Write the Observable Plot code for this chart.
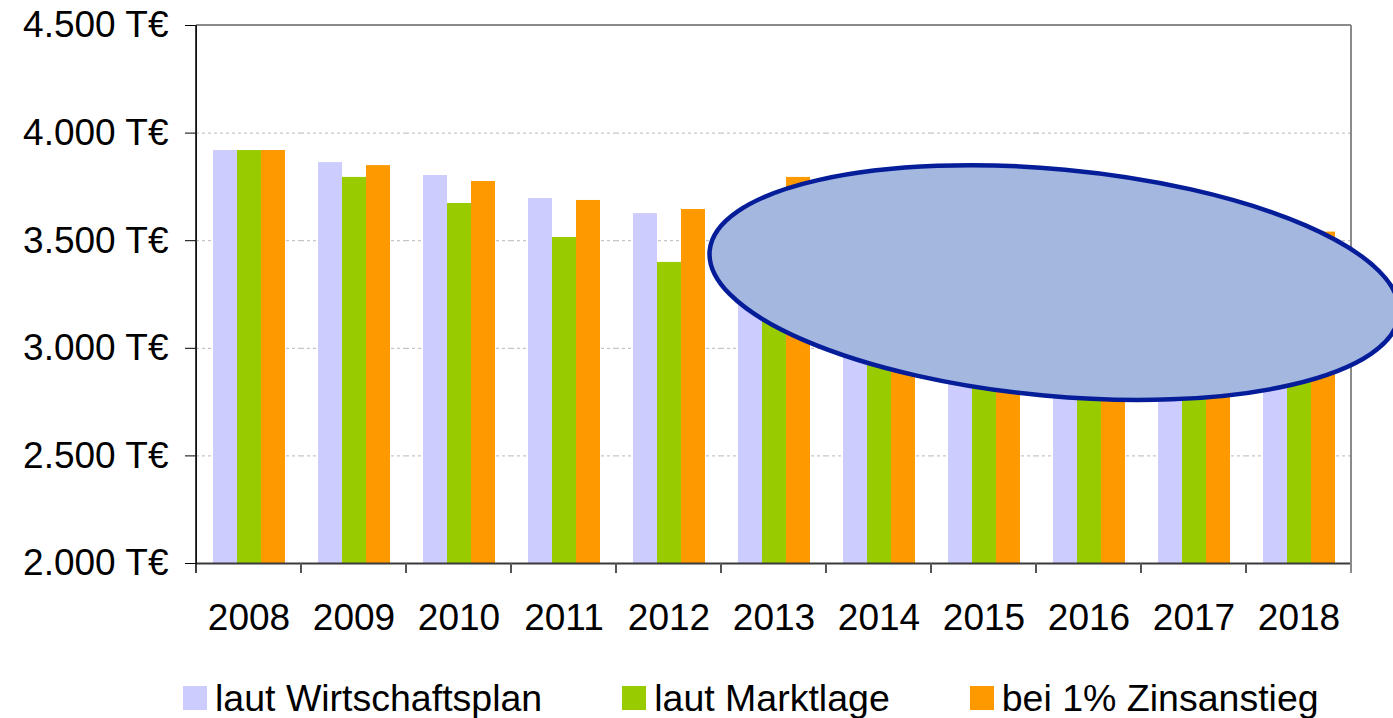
<!DOCTYPE html>
<html>
<head>
<meta charset="utf-8">
<script src="https://cdn.jsdelivr.net/npm/d3@7"></script>
<script src="https://cdn.jsdelivr.net/npm/@observablehq/plot@0.6"></script>
<style>
  body { margin: 0; background: #fff; font-family: "Liberation Sans", Arial, sans-serif; }
  #chart { position: relative; width: 1393px; height: 718px; overflow: hidden; }
  #legend { position: absolute; left: 183px; top: 677px; display: flex; align-items: center; font-size: 37.5px; line-height: 42px; color: #000; gap: 80px; white-space: nowrap; }
  .item { display: flex; align-items: center; }
  .sw { width: 24px; height: 24px; margin-right: 8px; }
</style>
</head>
<body>
<div id="chart"></div>
<script>
// ---- data ----
const years = ["2008", "2009", "2010", "2011", "2012", "2013", "2014", "2015", "2016", "2017", "2018"];
const seriesNames = ["laut Wirtschaftsplan", "laut Marktlage", "bei 1% Zinsanstieg"];
const seriesColors = ["#ccccff", "#99cc00", "#ff9900"];
const wirtschaftsplan = [3919, 3863, 3803, 3696, 3626, 3560, 3490, 3420, 3350, 3290, 3230];
const marktlage       = [3919, 3794, 3673, 3515, 3399, 3290, 3200, 3120, 3060, 3010, 2980];
const zinsanstieg     = [3919, 3849, 3775, 3687, 3645, 3794, 3740, 3680, 3630, 3590, 3540];
const yTicks = [2000, 2500, 3000, 3500, 4000, 4500];

const seriesValues = [wirtschaftsplan, marktlage, zinsanstieg];
const rows = years.flatMap((year, i) =>
  seriesNames.map((series, s) => ({ year, series, value: seriesValues[s][i] }))
);

const de = d3.formatLocale({ decimal: ",", thousands: ".", grouping: [3], currency: ["", "€"] });
const fmtNum = de.format(",");
const fmt = v => fmtNum(v) + " T€";

const W = 1393, H = 660;
const plot = Plot.plot({
  width: W,
  height: H,
  marginLeft: 193,
  marginRight: 40,
  marginTop: 25,
  marginBottom: H - 563,
  style: { fontFamily: '"Liberation Sans", Arial, sans-serif', fontSize: "37px", color: "#000", background: "transparent", overflow: "visible" },
  facet: { data: rows, x: "year", label: null },
  fx: { domain: years, padding: 0, label: null, tickSize: 0, tickPadding: 40, axis: "bottom" },
  x: { domain: seriesNames, paddingInner: 0, paddingOuter: 0.666, align: 0.5, axis: null },
  y: { domain: [yTicks[0], yTicks[yTicks.length - 1]], ticks: yTicks, tickFormat: fmt, tickSize: 11, tickPadding: 17, label: null, line: true },
  color: { domain: seriesNames, range: seriesColors },
  marks: [
    Plot.ruleY(yTicks.slice(1, -1), { stroke: "#b8b8b8", strokeDasharray: "3,3", strokeWidth: 1 }),
    Plot.barY(rows, { x: "series", y1: yTicks[0], y2: "value", fill: "series" }),
    Plot.ruleY([yTicks[0]], { stroke: "#3a3a3a", strokeWidth: 2 })
  ]
});

// ---- frame, category ticks and ellipse annotation derived from the scales ----
const ns = "http://www.w3.org/2000/svg";
const fxS = plot.scale("fx");
const yS = plot.scale("y");
const bw = fxS.bandwidth;
const xL = fxS.apply(years[0]);
const xR = fxS.apply(years[years.length - 1]) + bw;
const yTop = yS.apply(yTicks[yTicks.length - 1]);
const yBot = yS.apply(yTicks[0]);
const g = document.createElementNS(ns, "g");
function line(x1, y1, x2, y2, stroke, w) {
  const l = document.createElementNS(ns, "line");
  l.setAttribute("x1", x1); l.setAttribute("y1", y1);
  l.setAttribute("x2", x2); l.setAttribute("y2", y2);
  l.setAttribute("stroke", stroke); l.setAttribute("stroke-width", w);
  g.appendChild(l);
}
line(xL, yTop, xR, yTop, "#8a8a8a", 2);
line(xR, yTop, xR, yBot + 10, "#8a8a8a", 2);
line(xL, yTop, xL, yBot + 10, "#111", 1.6);
for (let i = 1; i < years.length; i++) {
  const x = xL + i * bw;
  line(x, yBot, x, yBot + 10, "#555", 2);
}
// ellipse annotation (centre given in chart units)
const note = { year: "2016", offset: 0.175, value: 3303, rxBands: 3.297, ryValue: 527, angle: 5.3 };
const cx = fxS.apply(note.year) + note.offset * bw;
const cy = yS.apply(note.value);
const rx = note.rxBands * bw;
const ry = Math.abs(yS.apply(note.value - note.ryValue) - cy);
const e = document.createElementNS(ns, "ellipse");
e.setAttribute("cx", 0); e.setAttribute("cy", 0);
e.setAttribute("rx", rx); e.setAttribute("ry", ry);
e.setAttribute("transform", `translate(${cx},${cy}) rotate(${note.angle})`);
e.setAttribute("fill", "#a4b7de");
e.setAttribute("stroke", "#061d99");
e.setAttribute("stroke-width", 4.5);
g.appendChild(e);
plot.appendChild(g);

const chart = document.getElementById("chart");
chart.appendChild(plot);

// ---- legend ----
const legend = document.createElement("div");
legend.id = "legend";
seriesNames.forEach((name, i) => {
  const item = document.createElement("div");
  item.className = "item";
  const sw = document.createElement("div");
  sw.className = "sw";
  sw.style.background = seriesColors[i];
  const t = document.createElement("span");
  t.textContent = name;
  item.appendChild(sw);
  item.appendChild(t);
  legend.appendChild(item);
});
chart.appendChild(legend);
</script>
</body>
</html>
